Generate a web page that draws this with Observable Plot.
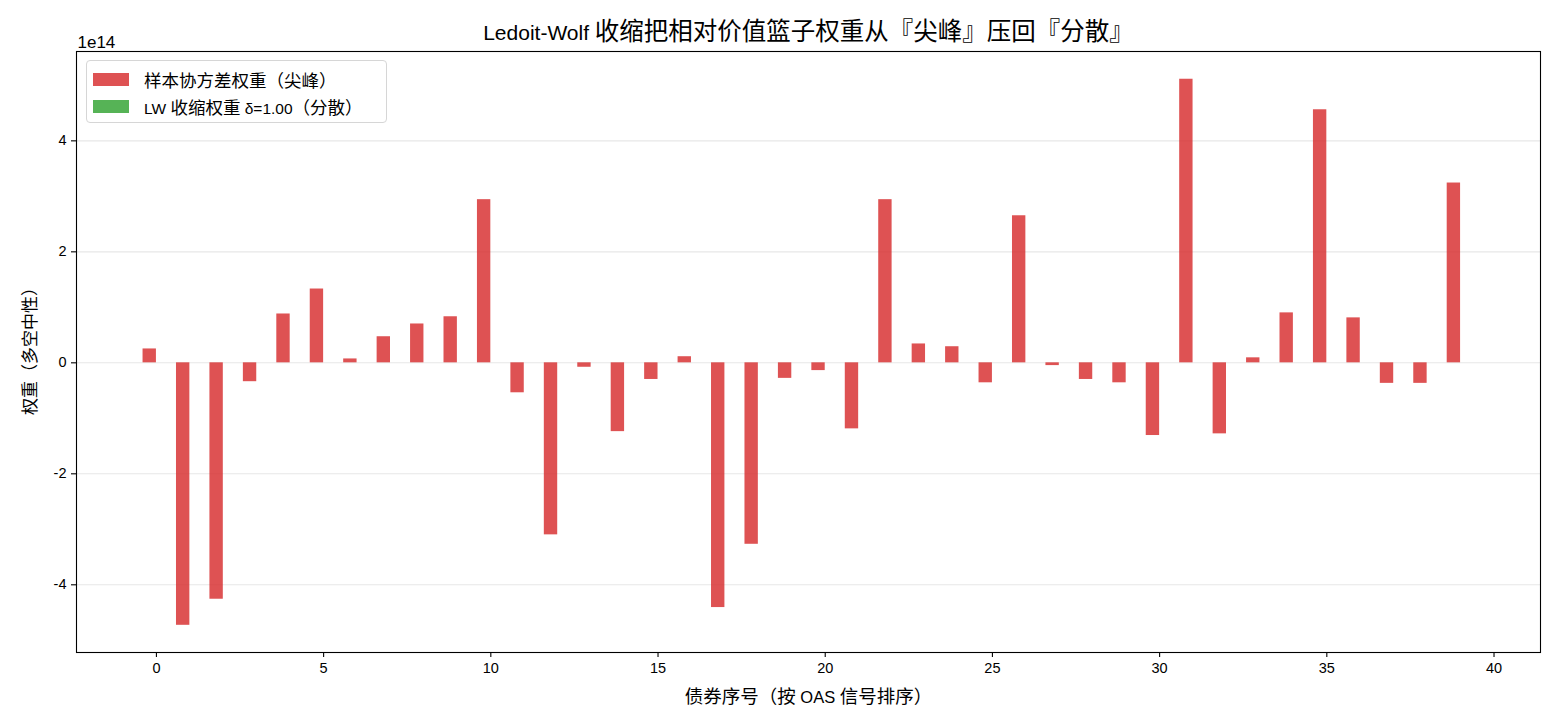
<!DOCTYPE html>
<html>
<head>
<meta charset="utf-8">
<script src="https://cdn.jsdelivr.net/npm/d3@7"></script>
<script src="https://cdn.jsdelivr.net/npm/@observablehq/plot@0.6"></script>
<style>
  html, body { margin: 0; padding: 0; background: #fff; }
  #wrap { position: relative; width: 1560px; height: 728px; font-family: "Liberation Sans", Arial, "Noto Sans CJK SC", sans-serif; }
  #legend {
    position: absolute; left: 86px; top: 60px; width: 301px; height: 63px;
    border: 1px solid #d6d6d6; border-radius: 4px; background: rgba(255,255,255,0.8);
    box-sizing: border-box; font-size: 15.5px; color: #000;
  }
  .item { position: absolute; left: 6px; height: 14px; display: flex; align-items: center; white-space: nowrap; }
  .sw { width: 36px; height: 13px; margin-right: 15px; flex: none; }
</style>
</head>
<body>
<div id="wrap"></div>
<script>
// ---- data (weights in units of 1e14) ----
const bondIndex = d3.range(40);
const sampleWeights = [0.25, -4.73, -4.26, -0.34, 0.88, 1.33, 0.07, 0.47, 0.70, 0.83,
                       2.94, -0.54, -3.10, -0.08, -1.24, -0.30, 0.11, -4.41, -3.27, -0.28,
                       -0.14, -1.19, 2.94, 0.34, 0.29, -0.36, 2.65, -0.05, -0.30, -0.36,
                       -1.31, 5.11, -1.28, 0.09, 0.90, 4.56, 0.81, -0.37, -0.37, 3.24];
const lwWeights = [0, 0, 0, 0, 0, 0, 0, 0, 0, 0,
                   0, 0, 0, 0, 0, 0, 0, 0, 0, 0,
                   0, 0, 0, 0, 0, 0, 0, 0, 0, 0,
                   0, 0, 0, 0, 0, 0, 0, 0, 0, 0];
const seriesNames = ["样本协方差权重（尖峰）", "LW 收缩权重 δ=1.00（分散）"];
const seriesColors = ["#d62728", "#2ca02c"];
const xTicks = [0, 5, 10, 15, 20, 25, 30, 35, 40];
const yTicks = [-4, -2, 0, 2, 4];
const titleText = "Ledoit-Wolf 收缩把相对价值篮子权重从『尖峰』压回『分散』";
const xLabel = "债券序号（按 OAS 信号排序）";
const yLabel = "权重（多空中性）";
const scaleText = "1e14";

const barW = 0.4;
const rows = bondIndex.flatMap(i => [
  {i, s: 0, v: sampleWeights[i]},
  {i, s: 1, v: lwWeights[i]}
]);

const font = '"Liberation Sans", Arial, "Noto Sans CJK SC", sans-serif';

const chart = Plot.plot({
  width: 1560,
  height: 728,
  marginLeft: 76,
  marginRight: 20,
  marginTop: 51,
  marginBottom: 76,
  style: {fontFamily: font, color: "#000", background: "#fff"},
  x: {domain: [-2.39, 41.39]},
  y: {domain: [-5.22, 5.61]},
  marks: [
    Plot.gridY(yTicks, {stroke: "#b0b0b0", strokeOpacity: 0.3, strokeWidth: 1.1}),
    Plot.rect(rows, {
      x1: d => d.i + (d.s === 0 ? -barW : 0),
      x2: d => d.i + (d.s === 0 ? 0 : barW),
      y1: 0, y2: "v",
      fill: d => seriesColors[d.s], fillOpacity: 0.8
    }),
    Plot.frame({stroke: "#000", strokeWidth: 1.1}),
    Plot.axisX(xTicks, {tickSize: 5, tickPadding: 5, tickFormat: d => String(d), label: null, fontSize: 14.5, strokeWidth: 1.1}),
    Plot.axisY(yTicks, {tickSize: 5, tickPadding: 5, tickFormat: d => String(d), label: null, fontSize: 14.5, strokeWidth: 1.1}),
    Plot.text([titleText], {frameAnchor: "top", lineAnchor: "bottom", dy: -12, fontSize: 21, text: d => d}),
    Plot.text([scaleText], {frameAnchor: "top-left", textAnchor: "start", lineAnchor: "bottom", dy: -4, dx: 1, fontSize: 17, text: d => d}),
    Plot.text([xLabel], {frameAnchor: "bottom", lineAnchor: "middle", dy: 45, fontSize: 16.5, text: d => d}),
    Plot.text([yLabel], {frameAnchor: "left", rotate: -90, textAnchor: "middle", lineAnchor: "middle", dx: -46, dy: -5, fontSize: 16, text: d => d})
  ]
});

const CJK = /([\u2E80-\u9FFF\u3000-\u303F\uFF00-\uFFEF]+)/;
function mixSvgText(el, cjkSize) {
  const s = el.textContent;
  el.textContent = "";
  s.split(CJK).forEach(part => {
    if (!part) return;
    const t = document.createElementNS("http://www.w3.org/2000/svg", "tspan");
    if (CJK.test(part)) t.setAttribute("font-size", cjkSize);
    t.textContent = part;
    el.appendChild(t);
  });
}
chart.querySelectorAll("text").forEach(el => {
  const s = el.textContent;
  if (s === titleText) mixSvgText(el, 24.5);
  else if (s === xLabel) mixSvgText(el, 18.5);
  else if (s === yLabel) mixSvgText(el, 17);
});

const wrap = document.getElementById("wrap");
wrap.appendChild(chart);

const legend = document.createElement("div");
legend.id = "legend";
seriesNames.forEach((name, k) => {
  const it = document.createElement("div");
  it.className = "item";
  it.style.top = (11 + k * 27) + "px";
  const sw = document.createElement("span");
  sw.className = "sw";
  sw.style.background = seriesColors[k];
  sw.style.opacity = 0.8;
  const tx = document.createElement("span");
  name.split(CJK).forEach(part => {
    if (!part) return;
    const p = document.createElement("span");
    if (CJK.test(part)) p.style.fontSize = "17.5px";
    p.textContent = part;
    tx.appendChild(p);
  });
  it.appendChild(sw);
  it.appendChild(tx);
  legend.appendChild(it);
});
wrap.appendChild(legend);
</script>
</body>
</html>
